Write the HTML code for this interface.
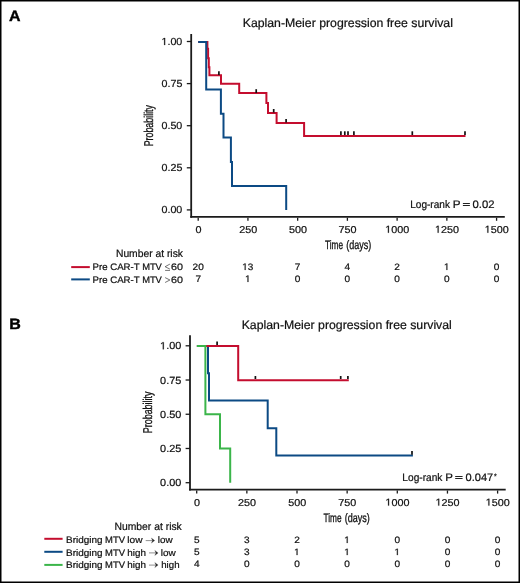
<!DOCTYPE html>
<html><head><meta charset="utf-8">
<style>
html,body{margin:0;padding:0;background:#fff;}
body{width:520px;height:583px;overflow:hidden;position:relative;}
svg{position:absolute;left:0;top:0;will-change:transform;}
text{font-family:"Liberation Sans",sans-serif;fill:#111;stroke:#111;stroke-width:0.22px;text-rendering:geometricPrecision;}
.g1{fill:#111;stroke:#111;stroke-width:0.22px;vector-effect:non-scaling-stroke;}
.h{fill:transparent;stroke:transparent;}
</style></head><body>
<svg width="520" height="583" viewBox="0 0 520 583">
<path d="M0.75 0 V583 M0 0.75 H520 M519.25 0 V583 M0 582.25 H520" stroke="#000" stroke-width="1.5" fill="none"/>
<text x="9.10" y="20.80" textLength="11.52" lengthAdjust="spacingAndGlyphs" style="font-size:15.00px;font-weight:bold;fill:#000;stroke:#000;stroke-width:0.4px;">A</text>
<text x="242.69" y="27.10" textLength="210.23" lengthAdjust="spacingAndGlyphs" style="font-size:12.20px;">Kaplan-Meier progression free survival</text>
<path d="M191.20 34.00 V217.75" stroke="#1b1b1b" stroke-width="1.8" fill="none" />
<path d="M190.30 216.90 H504.80" stroke="#1b1b1b" stroke-width="1.7" fill="none" />
<path d="M186.80 41.50 H191.20" stroke="#1b1b1b" stroke-width="1.3" fill="none" />
<text x="161.47" y="45.00" textLength="20.84" lengthAdjust="spacingAndGlyphs" style="font-size:10.20px;"><tspan class="h">1</tspan>.00</text>
<path class="g1" d="M515 0V1237L197 1010V1180L530 1409H696V0Z" transform="translate(161.47 45.00) scale(0.00523 -0.00498)"/>
<path d="M186.80 83.60 H191.20" stroke="#1b1b1b" stroke-width="1.3" fill="none" />
<text x="161.50" y="87.10" textLength="20.84" lengthAdjust="spacingAndGlyphs" style="font-size:10.20px;">0.75</text>
<path d="M186.80 125.70 H191.20" stroke="#1b1b1b" stroke-width="1.3" fill="none" />
<text x="161.47" y="129.20" textLength="20.84" lengthAdjust="spacingAndGlyphs" style="font-size:10.20px;">0.50</text>
<path d="M186.80 167.80 H191.20" stroke="#1b1b1b" stroke-width="1.3" fill="none" />
<text x="161.50" y="171.30" textLength="20.84" lengthAdjust="spacingAndGlyphs" style="font-size:10.20px;">0.25</text>
<path d="M186.80 209.90 H191.20" stroke="#1b1b1b" stroke-width="1.3" fill="none" />
<text x="161.47" y="213.40" textLength="20.84" lengthAdjust="spacingAndGlyphs" style="font-size:10.20px;">0.00</text>
<path d="M198.20 217.70 V220.80" stroke="#1b1b1b" stroke-width="1.3" fill="none" />
<text x="195.50" y="232.70" textLength="6.01" lengthAdjust="spacingAndGlyphs" style="font-size:10.00px;">0</text>
<path d="M247.93 217.70 V220.80" stroke="#1b1b1b" stroke-width="1.3" fill="none" />
<text x="239.16" y="232.70" textLength="18.02" lengthAdjust="spacingAndGlyphs" style="font-size:10.00px;">250</text>
<path d="M297.66 217.70 V220.80" stroke="#1b1b1b" stroke-width="1.3" fill="none" />
<text x="288.95" y="232.70" textLength="18.02" lengthAdjust="spacingAndGlyphs" style="font-size:10.00px;">500</text>
<path d="M347.39 217.70 V220.80" stroke="#1b1b1b" stroke-width="1.3" fill="none" />
<text x="338.61" y="232.70" textLength="18.02" lengthAdjust="spacingAndGlyphs" style="font-size:10.00px;">750</text>
<path d="M397.12 217.70 V220.80" stroke="#1b1b1b" stroke-width="1.3" fill="none" />
<text x="385.21" y="232.70" textLength="24.03" lengthAdjust="spacingAndGlyphs" style="font-size:10.00px;"><tspan class="h">1</tspan>000</text>
<path class="g1" d="M515 0V1237L197 1010V1180L530 1409H696V0Z" transform="translate(385.21 232.70) scale(0.00527 -0.00488)"/>
<path d="M446.85 217.70 V220.80" stroke="#1b1b1b" stroke-width="1.3" fill="none" />
<text x="434.94" y="232.70" textLength="24.03" lengthAdjust="spacingAndGlyphs" style="font-size:10.00px;"><tspan class="h">1</tspan>250</text>
<path class="g1" d="M515 0V1237L197 1010V1180L530 1409H696V0Z" transform="translate(434.94 232.70) scale(0.00527 -0.00488)"/>
<path d="M496.58 217.70 V220.80" stroke="#1b1b1b" stroke-width="1.3" fill="none" />
<text x="484.67" y="232.70" textLength="24.03" lengthAdjust="spacingAndGlyphs" style="font-size:10.00px;"><tspan class="h">1</tspan>500</text>
<path class="g1" d="M515 0V1237L197 1010V1180L530 1409H696V0Z" transform="translate(484.67 232.70) scale(0.00527 -0.00488)"/>
<text x="325.02" y="249.00" textLength="18.04" lengthAdjust="spacingAndGlyphs" style="font-size:12.30px;stroke:#111;stroke-width:0.32px;">Time</text>
<text x="346.14" y="249.00" textLength="25.02" lengthAdjust="spacingAndGlyphs" style="font-size:12.30px;stroke:#111;stroke-width:0.32px;">(days)</text>
<text x="0" y="0" textLength="41.34" lengthAdjust="spacingAndGlyphs" transform="translate(153.40 146.33) rotate(-90)" style="font-size:12.80px;stroke:#111;stroke-width:0.32px;">Probability</text>
<text x="410.17" y="207.60" textLength="39.81" lengthAdjust="spacingAndGlyphs" style="font-size:10.90px;">Log-rank</text>
<text x="452.84" y="207.60" textLength="7.77" lengthAdjust="spacingAndGlyphs" style="font-size:10.90px;">P</text>
<text x="472.56" y="207.60" textLength="22.01" lengthAdjust="spacingAndGlyphs" style="font-size:10.90px;">0.02</text>
<path d="M462.9 203.5 H469.9 M462.9 205.5 H469.9" stroke="#222" stroke-width="1.0" fill="none" />
<text class="h" x="462.5" y="207.6" style="font-size:10px">=</text>
<g fill="none" stroke-width="2" stroke-linejoin="miter" stroke-linecap="butt">
<path d="M198.2 42 H207.4 V48.8 H208.1 V58.3 H208.8 V67.2 H209.4 V75.3 H221 V83.65 H239.2 V93.1 H266.4 V103.1 H268 V112.9 H276.6 V122.9 H304.1 V136.0 H465.5" stroke="#c40d2e" stroke-width="2" fill="none" />
<path d="M198.2 42 H206.2 V89.6 H220.9 V113.7 H223.5 V137.6 H230.9 V161.9 H232 V186.1 H286.2 V209.9" stroke="#0c4a84" stroke-width="2" fill="none" />
</g>
<path d="M218.9 71.3 V75.0" stroke="#111" stroke-width="1.7" fill="none" />
<path d="M256.2 89.2 V93.0" stroke="#111" stroke-width="1.7" fill="none" />
<path d="M273.7 109.0 V112.5" stroke="#111" stroke-width="1.7" fill="none" />
<path d="M286.1 119.0 V122.5" stroke="#111" stroke-width="1.7" fill="none" />
<path d="M340.9 131.3 V135.0" stroke="#111" stroke-width="1.7" fill="none" />
<path d="M344.8 131.3 V135.0" stroke="#111" stroke-width="1.7" fill="none" />
<path d="M348.0 131.3 V135.0" stroke="#111" stroke-width="1.7" fill="none" />
<path d="M353.9 131.3 V135.0" stroke="#111" stroke-width="1.7" fill="none" />
<path d="M412.3 131.3 V135.0" stroke="#111" stroke-width="1.7" fill="none" />
<path d="M465.0 131.3 V135.0" stroke="#111" stroke-width="1.7" fill="none" />
<text x="115.95" y="256.80" textLength="67.03" lengthAdjust="spacingAndGlyphs" style="font-size:10.70px;">Number at risk</text>
<path d="M71.2 267.1 H89.8" stroke="#c40d2e" stroke-width="2" fill="none" />
<path d="M71.2 279.4 H89.8" stroke="#0c4a84" stroke-width="2" fill="none" />
<text x="92.61" y="270.10" textLength="47.01" lengthAdjust="spacingAndGlyphs" style="font-size:9.40px;">Pre CAR-T</text>
<text x="142.13" y="270.10" textLength="19.71" lengthAdjust="spacingAndGlyphs" style="font-size:9.40px;">MTV</text>
<text x="92.61" y="282.60" textLength="47.01" lengthAdjust="spacingAndGlyphs" style="font-size:9.40px;">Pre CAR-T</text>
<text x="142.13" y="282.60" textLength="19.71" lengthAdjust="spacingAndGlyphs" style="font-size:9.40px;">MTV</text>
<text x="170.95" y="270.20" textLength="11.97" lengthAdjust="spacingAndGlyphs" style="font-size:9.40px;">60</text>
<text x="170.95" y="282.60" textLength="11.97" lengthAdjust="spacingAndGlyphs" style="font-size:9.40px;">60</text>
<path d="M169.9 264.1 L165.1 266.7 L169.9 269.1 M165.1 270.4 H170.0" stroke="#444" stroke-width="0.75" fill="none" />
<path d="M165.1 277.6 L169.9 280.0 L165.1 282.5" stroke="#444" stroke-width="0.75" fill="none" />
<text class="h" x="164.8" y="270.1" style="font-size:9px">&#8804;</text><text class="h" x="164.8" y="282.6" style="font-size:9px">&gt;</text>
<text x="192.56" y="269.90" textLength="11.17" lengthAdjust="spacingAndGlyphs" style="font-size:9.30px;">20</text>
<text x="195.40" y="281.90" textLength="5.59" lengthAdjust="spacingAndGlyphs" style="font-size:9.30px;">7</text>
<text x="242.18" y="269.90" textLength="11.17" lengthAdjust="spacingAndGlyphs" style="font-size:9.30px;"><tspan class="h">1</tspan>3</text>
<path class="g1" d="M515 0V1237L197 1010V1180L530 1409H696V0Z" transform="translate(242.18 269.90) scale(0.00490 -0.00454)"/>
<text x="245.00" y="281.90" textLength="5.59" lengthAdjust="spacingAndGlyphs" style="font-size:9.30px;"><tspan class="h">1</tspan></text>
<path class="g1" d="M515 0V1237L197 1010V1180L530 1409H696V0Z" transform="translate(245.00 281.90) scale(0.00490 -0.00454)"/>
<text x="294.86" y="269.90" textLength="5.59" lengthAdjust="spacingAndGlyphs" style="font-size:9.30px;">7</text>
<text x="294.87" y="281.90" textLength="5.59" lengthAdjust="spacingAndGlyphs" style="font-size:9.30px;">0</text>
<text x="344.63" y="269.90" textLength="5.59" lengthAdjust="spacingAndGlyphs" style="font-size:9.30px;">4</text>
<text x="344.60" y="281.90" textLength="5.59" lengthAdjust="spacingAndGlyphs" style="font-size:9.30px;">0</text>
<text x="394.33" y="269.90" textLength="5.59" lengthAdjust="spacingAndGlyphs" style="font-size:9.30px;">2</text>
<text x="394.33" y="281.90" textLength="5.59" lengthAdjust="spacingAndGlyphs" style="font-size:9.30px;">0</text>
<text x="443.92" y="269.90" textLength="5.59" lengthAdjust="spacingAndGlyphs" style="font-size:9.30px;"><tspan class="h">1</tspan></text>
<path class="g1" d="M515 0V1237L197 1010V1180L530 1409H696V0Z" transform="translate(443.92 269.90) scale(0.00490 -0.00454)"/>
<text x="444.06" y="281.90" textLength="5.59" lengthAdjust="spacingAndGlyphs" style="font-size:9.30px;">0</text>
<text x="493.79" y="269.90" textLength="5.59" lengthAdjust="spacingAndGlyphs" style="font-size:9.30px;">0</text>
<text x="493.79" y="281.90" textLength="5.59" lengthAdjust="spacingAndGlyphs" style="font-size:9.30px;">0</text>
<text x="9.23" y="328.70" textLength="11.60" lengthAdjust="spacingAndGlyphs" style="font-size:15.00px;font-weight:bold;fill:#000;stroke:#000;stroke-width:0.4px;">B</text>
<text x="241.69" y="328.90" textLength="210.13" lengthAdjust="spacingAndGlyphs" style="font-size:12.20px;">Kaplan-Meier progression free survival</text>
<path d="M190.00 335.20 V490.55" stroke="#1b1b1b" stroke-width="1.8" fill="none" />
<path d="M189.10 489.70 H505.70" stroke="#1b1b1b" stroke-width="1.7" fill="none" />
<path d="M185.60 345.80 H190.00" stroke="#1b1b1b" stroke-width="1.3" fill="none" />
<text x="160.07" y="349.30" textLength="21.25" lengthAdjust="spacingAndGlyphs" style="font-size:10.40px;"><tspan class="h">1</tspan>.00</text>
<path class="g1" d="M515 0V1237L197 1010V1180L530 1409H696V0Z" transform="translate(160.07 349.30) scale(0.00533 -0.00508)"/>
<path d="M185.60 380.02 H190.00" stroke="#1b1b1b" stroke-width="1.3" fill="none" />
<text x="160.11" y="383.52" textLength="21.25" lengthAdjust="spacingAndGlyphs" style="font-size:10.40px;">0.75</text>
<path d="M185.60 414.25 H190.00" stroke="#1b1b1b" stroke-width="1.3" fill="none" />
<text x="160.07" y="417.75" textLength="21.25" lengthAdjust="spacingAndGlyphs" style="font-size:10.40px;">0.50</text>
<path d="M185.60 448.48 H190.00" stroke="#1b1b1b" stroke-width="1.3" fill="none" />
<text x="160.11" y="451.98" textLength="21.25" lengthAdjust="spacingAndGlyphs" style="font-size:10.40px;">0.25</text>
<path d="M185.60 482.70 H190.00" stroke="#1b1b1b" stroke-width="1.3" fill="none" />
<text x="160.07" y="486.20" textLength="21.25" lengthAdjust="spacingAndGlyphs" style="font-size:10.40px;">0.00</text>
<path d="M196.70 490.50 V493.60" stroke="#1b1b1b" stroke-width="1.3" fill="none" />
<text x="194.00" y="505.60" textLength="6.01" lengthAdjust="spacingAndGlyphs" style="font-size:10.00px;">0</text>
<path d="M246.85 490.50 V493.60" stroke="#1b1b1b" stroke-width="1.3" fill="none" />
<text x="238.08" y="505.60" textLength="18.02" lengthAdjust="spacingAndGlyphs" style="font-size:10.00px;">250</text>
<path d="M297.00 490.50 V493.60" stroke="#1b1b1b" stroke-width="1.3" fill="none" />
<text x="288.29" y="505.60" textLength="18.02" lengthAdjust="spacingAndGlyphs" style="font-size:10.00px;">500</text>
<path d="M347.15 490.50 V493.60" stroke="#1b1b1b" stroke-width="1.3" fill="none" />
<text x="338.37" y="505.60" textLength="18.02" lengthAdjust="spacingAndGlyphs" style="font-size:10.00px;">750</text>
<path d="M397.30 490.50 V493.60" stroke="#1b1b1b" stroke-width="1.3" fill="none" />
<text x="385.39" y="505.60" textLength="24.03" lengthAdjust="spacingAndGlyphs" style="font-size:10.00px;"><tspan class="h">1</tspan>000</text>
<path class="g1" d="M515 0V1237L197 1010V1180L530 1409H696V0Z" transform="translate(385.39 505.60) scale(0.00527 -0.00488)"/>
<path d="M447.45 490.50 V493.60" stroke="#1b1b1b" stroke-width="1.3" fill="none" />
<text x="435.54" y="505.60" textLength="24.03" lengthAdjust="spacingAndGlyphs" style="font-size:10.00px;"><tspan class="h">1</tspan>250</text>
<path class="g1" d="M515 0V1237L197 1010V1180L530 1409H696V0Z" transform="translate(435.54 505.60) scale(0.00527 -0.00488)"/>
<path d="M497.60 490.50 V493.60" stroke="#1b1b1b" stroke-width="1.3" fill="none" />
<text x="485.69" y="505.60" textLength="24.03" lengthAdjust="spacingAndGlyphs" style="font-size:10.00px;"><tspan class="h">1</tspan>500</text>
<path class="g1" d="M515 0V1237L197 1010V1180L530 1409H696V0Z" transform="translate(485.69 505.60) scale(0.00527 -0.00488)"/>
<text x="323.52" y="522.30" textLength="18.04" lengthAdjust="spacingAndGlyphs" style="font-size:12.30px;stroke:#111;stroke-width:0.32px;">Time</text>
<text x="344.64" y="522.30" textLength="25.02" lengthAdjust="spacingAndGlyphs" style="font-size:12.30px;stroke:#111;stroke-width:0.32px;">(days)</text>
<text x="0" y="0" textLength="41.55" lengthAdjust="spacingAndGlyphs" transform="translate(152.10 433.13) rotate(-90)" style="font-size:12.80px;stroke:#111;stroke-width:0.32px;">Probability</text>
<text x="402.37" y="480.60" textLength="40.02" lengthAdjust="spacingAndGlyphs" style="font-size:10.90px;">Log-rank</text>
<text x="445.26" y="480.60" textLength="7.64" lengthAdjust="spacingAndGlyphs" style="font-size:10.90px;">P</text>
<text x="465.57" y="480.60" textLength="27.69" lengthAdjust="spacingAndGlyphs" style="font-size:10.90px;">0.047</text>
<text x="493.89" y="478.70" textLength="2.72" lengthAdjust="spacingAndGlyphs" style="font-size:8.00px;">*</text>
<path d="M455.2 476.5 H462.6 M455.2 478.5 H462.6" stroke="#222" stroke-width="1.0" fill="none" />
<text class="h" x="455" y="480.6" style="font-size:10px">=</text>
<g fill="none" stroke-width="2" stroke-linejoin="miter" stroke-linecap="butt">
<path d="M196.9 346 H208 V373.3 H209 V400.6 H267.7 V428.3 H276.3 V455.5 H412.9" stroke="#0c4a84" stroke-width="2" fill="none" />
<path d="M196.9 346 H238.2 V380.35 H348.8" stroke="#c40d2e" stroke-width="2" fill="none" />
<path d="M196.9 346 H205.4 V414.3 H220 V448.5 H230.2 V482.7" stroke="#3bb54a" stroke-width="2" fill="none" />
</g>
<path d="M217.1 341.5 V345.0" stroke="#111" stroke-width="1.7" fill="none" />
<path d="M255.4 376.0 V379.0" stroke="#111" stroke-width="1.7" fill="none" />
<path d="M340.7 376.0 V379.0" stroke="#111" stroke-width="1.7" fill="none" />
<path d="M347.9 376.0 V379.0" stroke="#111" stroke-width="1.7" fill="none" />
<path d="M412.0 451.1 V454.8" stroke="#111" stroke-width="1.7" fill="none" />
<text x="114.55" y="529.70" textLength="67.23" lengthAdjust="spacingAndGlyphs" style="font-size:10.70px;">Number at risk</text>
<path d="M44.3 538.8 H62.6" stroke="#c40d2e" stroke-width="2" fill="none" />
<path d="M44.3 551.8 H62.6" stroke="#0c4a84" stroke-width="2" fill="none" />
<path d="M44.3 564.9 H62.6" stroke="#3bb54a" stroke-width="2" fill="none" />
<text x="66.08" y="543.20" textLength="36.46" lengthAdjust="spacingAndGlyphs" style="font-size:9.40px;">Bridging</text>
<text x="105.13" y="543.20" textLength="19.92" lengthAdjust="spacingAndGlyphs" style="font-size:9.40px;">MTV</text>
<text x="127.32" y="543.20" textLength="15.16" lengthAdjust="spacingAndGlyphs" style="font-size:9.40px;">low</text>
<text x="157.73" y="543.20" textLength="14.84" lengthAdjust="spacingAndGlyphs" style="font-size:9.40px;">low</text>
<text x="66.08" y="555.50" textLength="36.46" lengthAdjust="spacingAndGlyphs" style="font-size:9.40px;">Bridging</text>
<text x="105.13" y="555.50" textLength="19.92" lengthAdjust="spacingAndGlyphs" style="font-size:9.40px;">MTV</text>
<text x="127.32" y="555.50" textLength="18.62" lengthAdjust="spacingAndGlyphs" style="font-size:9.40px;">high</text>
<text x="160.83" y="555.50" textLength="14.95" lengthAdjust="spacingAndGlyphs" style="font-size:9.40px;">low</text>
<text x="66.08" y="567.70" textLength="36.46" lengthAdjust="spacingAndGlyphs" style="font-size:9.40px;">Bridging</text>
<text x="105.13" y="567.70" textLength="19.92" lengthAdjust="spacingAndGlyphs" style="font-size:9.40px;">MTV</text>
<text x="127.32" y="567.70" textLength="18.62" lengthAdjust="spacingAndGlyphs" style="font-size:9.40px;">high</text>
<text x="161.23" y="567.70" textLength="18.30" lengthAdjust="spacingAndGlyphs" style="font-size:9.40px;">high</text>
<path d="M145.7 540.6 H152.9" stroke="#8a8a8a" stroke-width="0.95" fill="none" />
<text class="h" x="145.7" y="543.6" style="font-size:9px">&#8594;</text>
<path d="M151.40 538.10 L154.70 540.60 L151.40 543.10 L152.60 540.60 Z" fill="#222" stroke="#444" stroke-width="0.3"/>
<path d="M149.0 552.9 H156.3" stroke="#8a8a8a" stroke-width="0.95" fill="none" />
<text class="h" x="149.0" y="555.9" style="font-size:9px">&#8594;</text>
<path d="M154.80 550.40 L158.10 552.90 L154.80 555.40 L156.00 552.90 Z" fill="#222" stroke="#444" stroke-width="0.3"/>
<path d="M149.0 565.1 H156.3" stroke="#8a8a8a" stroke-width="0.95" fill="none" />
<text class="h" x="149.0" y="568.1" style="font-size:9px">&#8594;</text>
<path d="M154.80 562.60 L158.10 565.10 L154.80 567.60 L156.00 565.10 Z" fill="#222" stroke="#444" stroke-width="0.3"/>
<text x="193.92" y="543.00" textLength="5.59" lengthAdjust="spacingAndGlyphs" style="font-size:9.30px;">5</text>
<text x="193.92" y="555.10" textLength="5.59" lengthAdjust="spacingAndGlyphs" style="font-size:9.30px;">5</text>
<text x="193.94" y="567.00" textLength="5.59" lengthAdjust="spacingAndGlyphs" style="font-size:9.30px;">4</text>
<text x="244.09" y="543.00" textLength="5.59" lengthAdjust="spacingAndGlyphs" style="font-size:9.30px;">3</text>
<text x="244.09" y="555.10" textLength="5.59" lengthAdjust="spacingAndGlyphs" style="font-size:9.30px;">3</text>
<text x="244.06" y="567.00" textLength="5.59" lengthAdjust="spacingAndGlyphs" style="font-size:9.30px;">0</text>
<text x="294.21" y="543.00" textLength="5.59" lengthAdjust="spacingAndGlyphs" style="font-size:9.30px;">2</text>
<text x="294.07" y="555.10" textLength="5.59" lengthAdjust="spacingAndGlyphs" style="font-size:9.30px;"><tspan class="h">1</tspan></text>
<path class="g1" d="M515 0V1237L197 1010V1180L530 1409H696V0Z" transform="translate(294.07 555.10) scale(0.00490 -0.00454)"/>
<text x="294.21" y="567.00" textLength="5.59" lengthAdjust="spacingAndGlyphs" style="font-size:9.30px;">0</text>
<text x="344.22" y="543.00" textLength="5.59" lengthAdjust="spacingAndGlyphs" style="font-size:9.30px;"><tspan class="h">1</tspan></text>
<path class="g1" d="M515 0V1237L197 1010V1180L530 1409H696V0Z" transform="translate(344.22 543.00) scale(0.00490 -0.00454)"/>
<text x="344.22" y="555.10" textLength="5.59" lengthAdjust="spacingAndGlyphs" style="font-size:9.30px;"><tspan class="h">1</tspan></text>
<path class="g1" d="M515 0V1237L197 1010V1180L530 1409H696V0Z" transform="translate(344.22 555.10) scale(0.00490 -0.00454)"/>
<text x="344.36" y="567.00" textLength="5.59" lengthAdjust="spacingAndGlyphs" style="font-size:9.30px;">0</text>
<text x="394.51" y="543.00" textLength="5.59" lengthAdjust="spacingAndGlyphs" style="font-size:9.30px;">0</text>
<text x="394.37" y="555.10" textLength="5.59" lengthAdjust="spacingAndGlyphs" style="font-size:9.30px;"><tspan class="h">1</tspan></text>
<path class="g1" d="M515 0V1237L197 1010V1180L530 1409H696V0Z" transform="translate(394.37 555.10) scale(0.00490 -0.00454)"/>
<text x="394.51" y="567.00" textLength="5.59" lengthAdjust="spacingAndGlyphs" style="font-size:9.30px;">0</text>
<text x="444.66" y="543.00" textLength="5.59" lengthAdjust="spacingAndGlyphs" style="font-size:9.30px;">0</text>
<text x="444.66" y="555.10" textLength="5.59" lengthAdjust="spacingAndGlyphs" style="font-size:9.30px;">0</text>
<text x="444.66" y="567.00" textLength="5.59" lengthAdjust="spacingAndGlyphs" style="font-size:9.30px;">0</text>
<text x="494.81" y="543.00" textLength="5.59" lengthAdjust="spacingAndGlyphs" style="font-size:9.30px;">0</text>
<text x="494.81" y="555.10" textLength="5.59" lengthAdjust="spacingAndGlyphs" style="font-size:9.30px;">0</text>
<text x="494.81" y="567.00" textLength="5.59" lengthAdjust="spacingAndGlyphs" style="font-size:9.30px;">0</text>
</svg>
</body></html>
